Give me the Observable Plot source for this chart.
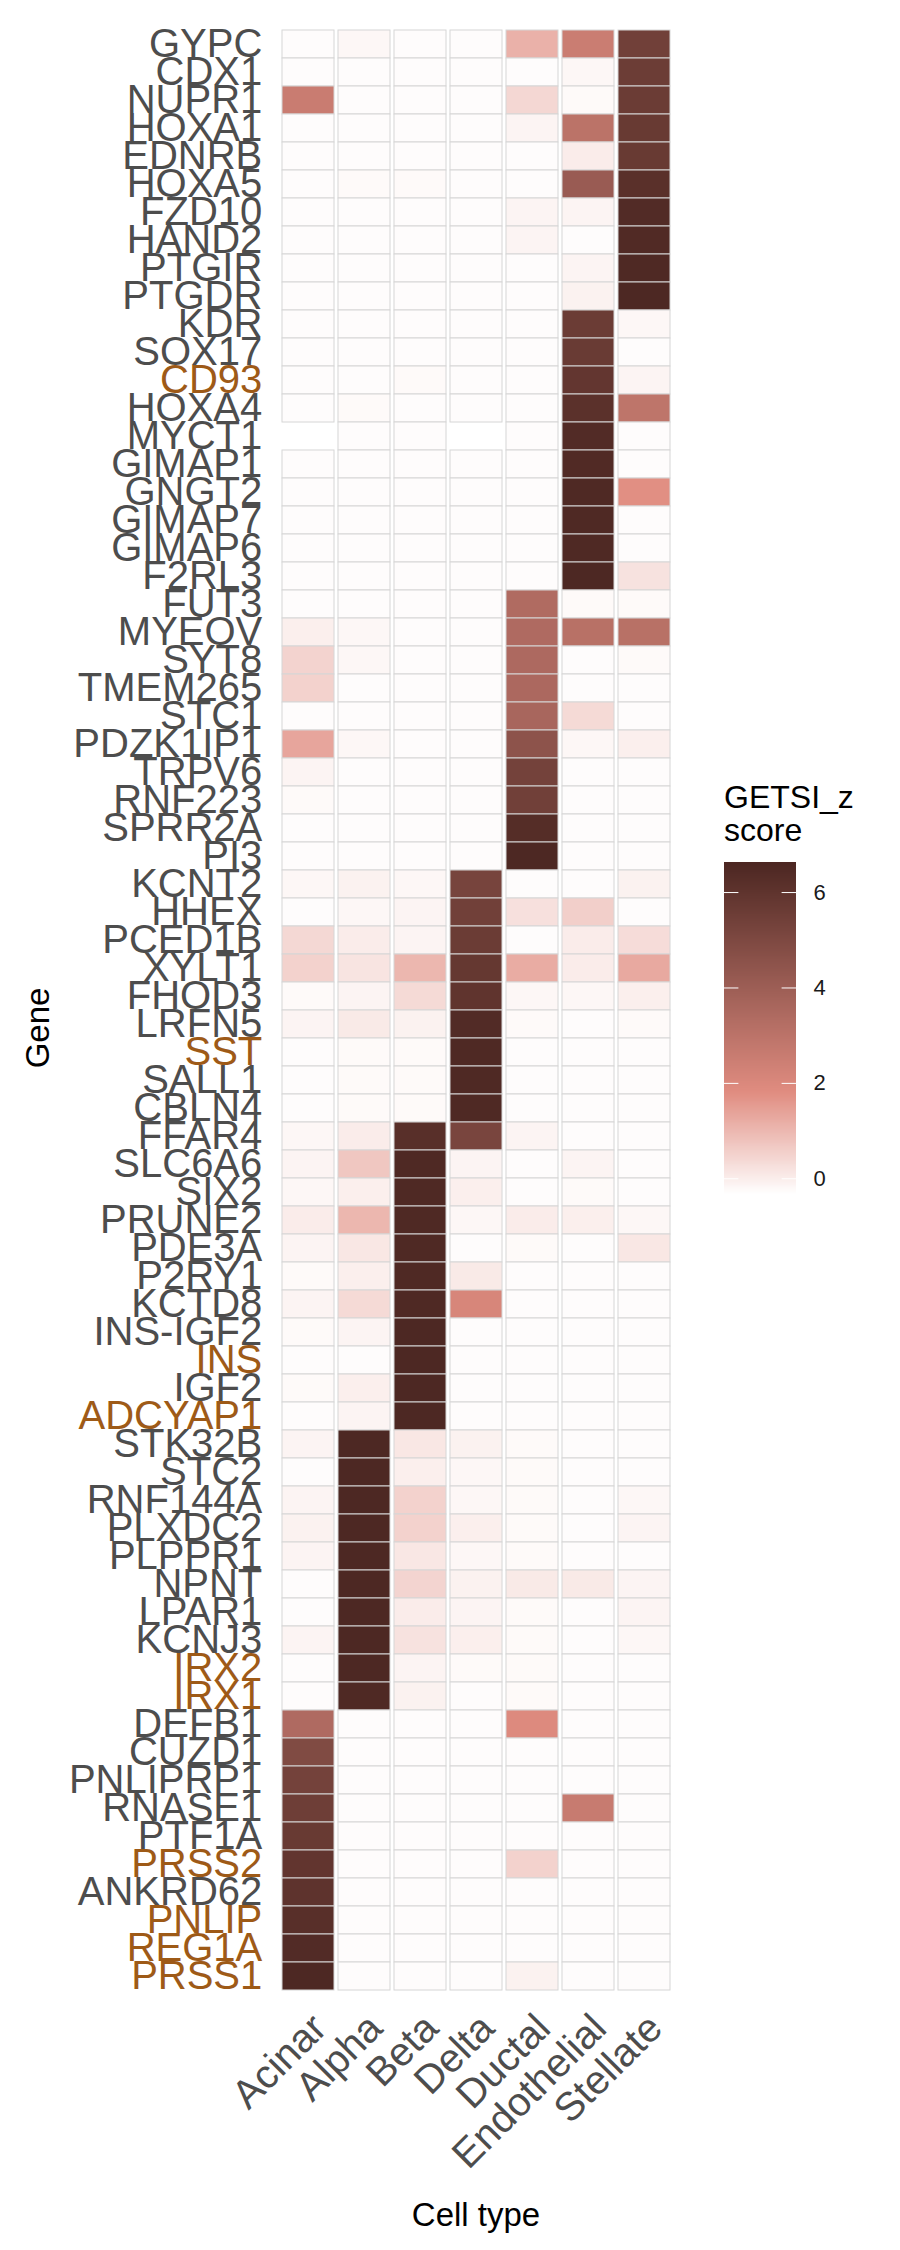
<!DOCTYPE html>
<html>
<head>
<meta charset="utf-8">
<script src="https://cdn.jsdelivr.net/npm/d3@7"></script>
<script src="https://cdn.jsdelivr.net/npm/@observablehq/plot@0.6"></script>
<style>
  html, body { margin: 0; padding: 0; background: #fff; }
  #wrap { position: relative; width: 900px; height: 2250px; font-family: "Liberation Sans", Arial, Helvetica, sans-serif; }
  #main, #legend { position: absolute; }
  #main { left: 0; top: 0; }
  #legend { left: 700px; top: 850px; }
  .lab { position: absolute; color: #000; white-space: nowrap; }
</style>
</head>
<body>
<div id="wrap">
  <div id="main"></div>
  <div id="legend"></div>
  <div class="lab" id="legTitle" style="left:724px; top:781px; font-size:32px; line-height:33px;">GETSI_z<br>score</div>
  <div class="lab" id="xTitle" style="left:0; width:952px; text-align:center; top:2197px; font-size:33px; line-height:36px;">Cell type</div>
  <div class="lab" id="yTitle" style="left:20px; top:1010px; font-size:33px; line-height:36px; transform: translate(0,-50%) rotate(-90deg); transform-origin: 18px 50%;"><span style="display:inline-block; transform: translateX(-50%);">Gene</span></div>
</div>
<script>
const cellTypes = ["Acinar", "Alpha", "Beta", "Delta", "Ductal", "Endothelial", "Stellate"];

const genes = ["GYPC","CDX1","NUPR1","HOXA1","EDNRB","HOXA5","FZD10","HAND2","PTGIR","PTGDR",
  "KDR","SOX17","CD93","HOXA4","MYCT1","GIMAP1","GNGT2","GIMAP7","GIMAP6","F2RL3",
  "FUT3","MYEOV","SYT8","TMEM265","STC1","PDZK1IP1","TRPV6","RNF223","SPRR2A","PI3",
  "KCNT2","HHEX","PCED1B","XYLT1","FHOD3","LRFN5","SST","SALL1","CBLN4","FFAR4",
  "SLC6A6","SIX2","PRUNE2","PDE3A","P2RY1","KCTD8","INS-IGF2","INS","IGF2","ADCYAP1",
  "STK32B","STC2","RNF144A","PLXDC2","PLPPR1","NPNT","LPAR1","KCNJ3","IRX2","IRX1",
  "DEFB1","CUZD1","PNLIPRP1","RNASE1","PTF1A","PRSS2","ANKRD62","PNLIP","REG1A","PRSS1"];

const highlightedGenes = ["CD93","SST","INS","ADCYAP1","IRX2","IRX1","PRSS2","PNLIP","REG1A","PRSS1"];

// GETSI z-scores, one array per cell type, in gene order (null = missing)
const acinar = [-0.3,-0.3,2.55,-0.3,-0.3,-0.3,-0.3,-0.3,-0.3,-0.3,
  -0.3,-0.3,-0.3,-0.3,null,-0.3,-0.3,-0.3,-0.3,-0.3,
  -0.3,-0.05,0.47,0.5,-0.3,1.33,-0.15,-0.25,-0.3,-0.3,
  -0.2,-0.3,0.38,0.5,-0.25,-0.15,-0.3,-0.3,-0.3,-0.2,
  -0.15,-0.2,0.0,-0.15,-0.25,-0.15,-0.25,-0.3,-0.25,-0.3,
  -0.15,-0.3,-0.15,-0.1,-0.15,-0.3,-0.3,-0.15,-0.3,-0.3,
  3.4,4.9,5.3,5.5,5.7,5.9,6.0,6.2,6.4,6.55];
const alpha = [-0.2,-0.3,-0.3,-0.3,-0.3,-0.25,-0.3,-0.3,-0.3,-0.3,
  -0.3,-0.3,-0.3,-0.25,-0.3,-0.3,-0.3,-0.3,-0.3,-0.3,
  -0.3,-0.2,-0.2,-0.3,-0.3,-0.2,-0.3,-0.3,-0.3,-0.3,
  -0.1,-0.2,0.0,0.15,-0.15,0.05,-0.25,-0.25,-0.25,0.0,
  0.7,-0.05,1.0,0.1,-0.05,0.35,-0.15,-0.3,-0.05,-0.15,
  6.55,6.55,6.55,6.55,6.55,6.55,6.55,6.55,6.55,6.5,
  -0.3,-0.3,-0.3,-0.3,-0.3,-0.3,-0.3,-0.3,-0.3,-0.3];
const beta = [-0.3,-0.3,-0.3,-0.3,-0.3,-0.25,-0.3,-0.3,-0.3,-0.3,
  -0.3,-0.3,-0.25,-0.3,-0.3,-0.3,-0.3,-0.3,-0.3,-0.3,
  -0.3,-0.3,-0.3,-0.3,-0.3,-0.3,-0.3,-0.3,-0.3,-0.3,
  -0.2,-0.15,-0.15,1.0,0.35,-0.1,-0.25,-0.25,-0.25,6.2,
  6.5,6.5,6.5,6.5,6.5,6.5,6.55,6.55,6.55,6.55,
  0.1,-0.05,0.5,0.5,0.1,0.45,0.0,0.2,-0.15,-0.1,
  -0.3,-0.3,-0.3,-0.3,-0.3,-0.3,-0.3,-0.3,-0.3,-0.3];
const delta = [-0.3,-0.3,-0.3,-0.3,-0.3,-0.3,-0.3,-0.3,-0.3,-0.3,
  -0.3,-0.3,-0.3,-0.3,null,-0.3,-0.3,-0.3,-0.3,-0.3,
  -0.3,-0.3,-0.3,-0.3,-0.3,-0.3,-0.3,-0.3,-0.3,-0.3,
  5.2,5.4,5.6,5.8,5.95,6.4,6.5,6.5,6.5,5.15,
  -0.15,-0.05,-0.2,-0.3,0.05,2.1,-0.3,-0.3,-0.3,-0.3,
  -0.1,-0.2,-0.2,-0.05,-0.2,-0.1,-0.15,-0.05,-0.25,-0.3,
  -0.3,-0.3,-0.3,-0.3,-0.3,-0.3,-0.3,-0.3,-0.3,-0.3];
const ductal = [1.1,-0.3,0.4,-0.15,-0.3,-0.3,-0.15,-0.15,-0.3,-0.3,
  -0.3,-0.3,-0.3,-0.3,-0.3,-0.3,-0.3,-0.3,-0.3,-0.3,
  3.36,3.4,3.45,3.5,3.6,4.5,5.3,5.4,6.3,6.55,
  -0.3,0.23,-0.3,1.2,-0.2,-0.25,-0.3,-0.3,-0.3,-0.15,
  -0.3,-0.3,0.0,-0.25,-0.3,-0.3,-0.3,-0.3,-0.3,-0.3,
  -0.25,-0.25,-0.25,-0.25,-0.25,0.05,-0.25,-0.25,-0.25,-0.25,
  1.9,-0.3,-0.3,-0.3,-0.3,0.5,-0.3,-0.3,-0.3,-0.1];
const endothelial = [2.5,-0.2,-0.25,3.0,0.0,4.1,-0.15,-0.3,-0.15,-0.1,
  5.6,5.65,5.85,6.1,6.4,6.45,6.5,6.5,6.5,6.55,
  -0.25,3.1,-0.3,-0.3,0.34,-0.2,-0.3,-0.3,-0.3,-0.3,
  -0.3,0.55,0.0,0.0,-0.2,-0.3,-0.3,-0.3,-0.3,-0.3,
  -0.15,-0.25,-0.05,-0.3,-0.3,-0.3,-0.3,-0.3,-0.3,-0.3,
  -0.3,-0.3,-0.3,-0.3,-0.3,0.05,-0.3,-0.3,-0.3,-0.3,
  -0.3,-0.3,-0.3,2.6,-0.3,-0.3,-0.3,-0.3,-0.3,-0.3];
const stellate = [5.4,5.56,5.6,5.7,5.7,6.15,6.4,6.45,6.5,6.55,
  -0.2,-0.3,-0.15,2.9,-0.3,-0.3,1.75,-0.3,-0.3,0.2,
  -0.25,3.1,-0.25,-0.3,-0.3,-0.05,-0.3,-0.3,-0.3,-0.3,
  -0.1,-0.3,0.3,1.25,-0.05,-0.25,-0.3,-0.3,-0.3,-0.3,
  -0.3,-0.3,-0.2,0.1,-0.3,-0.3,-0.3,-0.3,-0.3,-0.3,
  -0.3,-0.3,-0.2,-0.15,-0.3,-0.15,-0.15,-0.2,-0.3,-0.3,
  -0.3,-0.3,-0.3,-0.3,-0.3,-0.3,-0.3,-0.3,-0.3,-0.3];

const legendTicks = [0, 2, 4, 6];
const colorStops = [-0.35, 1.8, 6.63];
const colorRange = ["#FFFFFF", "#E08C80", "#4B2621"];

const seriesByType = {Acinar: acinar, Alpha: alpha, Beta: beta, Delta: delta, Ductal: ductal, Endothelial: endothelial, Stellate: stellate};
const table = [];
genes.forEach((g, i) => cellTypes.forEach(c => {
  const v = seriesByType[c][i];
  if (v != null) table.push({gene: g, cell: c, value: v});
}));

const FONT = '"Liberation Sans", Arial, Helvetica, sans-serif';
const GREY = "#4D4D4D";
const ORANGE = "#9E5A17";
const colorScale = {type: "linear", domain: colorStops, range: colorRange, clamp: true};

const main = Plot.plot({
  width: 900, height: 2250,
  marginLeft: 277.8, marginRight: 224.9, marginTop: 16, marginBottom: 246,
  style: {fontFamily: FONT, background: "transparent", overflow: "visible"},
  x: {domain: cellTypes, padding: 0, axis: null},
  y: {domain: genes, padding: 0, axis: null},
  color: colorScale,
  marks: [
    Plot.cell(table, {x: "cell", y: "gene", fill: "value", stroke: "#D6D6D6", strokeWidth: 1, insetLeft: 2, insetRight: 2}),
    Plot.text(genes.filter(g => !highlightedGenes.includes(g)), {y: d => d, frameAnchor: "left", dx: -16, textAnchor: "end", fontSize: 40, fill: GREY}),
    Plot.text(genes.filter(g => highlightedGenes.includes(g)), {y: d => d, frameAnchor: "left", dx: -16, textAnchor: "end", fontSize: 40, fill: ORANGE}),
    Plot.text(cellTypes, {x: d => d, frameAnchor: "bottom", dy: 6, rotate: -45, textAnchor: "end", lineAnchor: "top", fontSize: 40, fill: GREY})
  ]
});
document.getElementById("main").appendChild(main);

const legendSteps = d3.range(colorStops[0], colorStops[2], 0.02);
const legend = Plot.plot({
  width: 160, height: 360,
  marginLeft: 24, marginRight: 64, marginTop: 12, marginBottom: 15,
  style: {fontFamily: FONT, background: "transparent", overflow: "visible"},
  x: {domain: [0, 1], axis: null},
  y: {domain: [colorStops[0], colorStops[2]], axis: null},
  color: colorScale,
  marks: [
    Plot.rect(legendSteps, {x1: 0, x2: 1, y1: d => d, y2: d => Math.min(d + 0.03, colorStops[2]), fill: d => d, shapeRendering: "crispEdges"}),
    Plot.ruleY(legendTicks, {x1: 0, x2: 0.2, stroke: "white", strokeWidth: 1}),
    Plot.ruleY(legendTicks, {x1: 0.8, x2: 1, stroke: "white", strokeWidth: 1}),
    Plot.text(legendTicks, {y: d => d, frameAnchor: "right", dx: 17, textAnchor: "start", fontSize: 22, fill: "#1A1A1A"})
  ]
});
document.getElementById("legend").appendChild(legend);
</script>
</body>
</html>
